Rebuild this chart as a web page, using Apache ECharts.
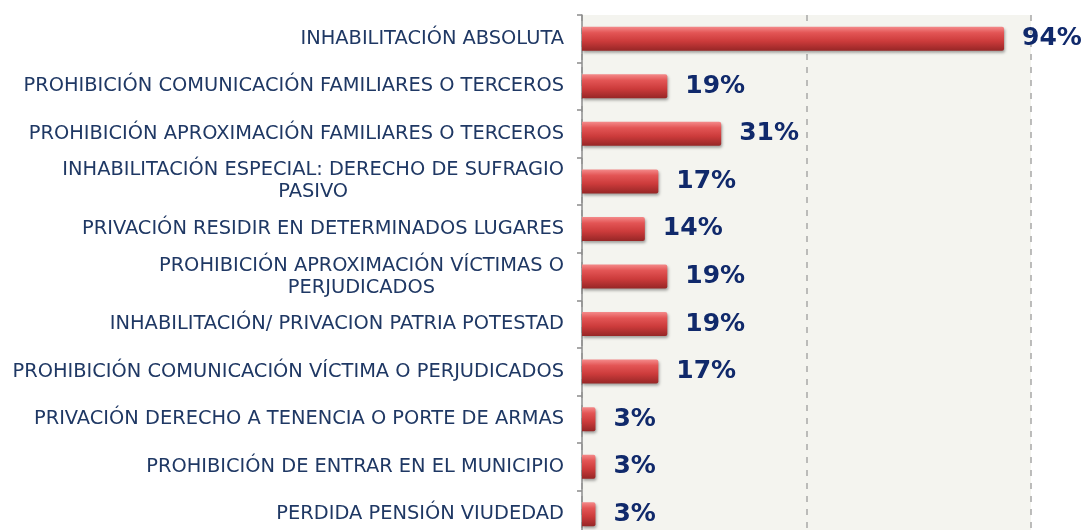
<!DOCTYPE html>
<html>
<head>
<meta charset="utf-8">
<script src="https://cdn.jsdelivr.net/npm/echarts@6/dist/echarts.min.js"></script>
<style>
  html, body { margin: 0; padding: 0; overflow: hidden; background: #fff; }
  #chart { width: 1088px; height: 538px; }
</style>
</head>
<body>
<div id="chart"></div>
<script>
// categories (top to bottom)
var categories = [
    'INHABILITACIÓN ABSOLUTA',
    'PROHIBICIÓN COMUNICACIÓN FAMILIARES O TERCEROS',
    'PROHIBICIÓN APROXIMACIÓN FAMILIARES O TERCEROS',
    'INHABILITACIÓN ESPECIAL: DERECHO DE SUFRAGIO\nPASIVO',
    'PRIVACIÓN RESIDIR EN DETERMINADOS LUGARES',
    'PROHIBICIÓN APROXIMACIÓN VÍCTIMAS O\nPERJUDICADOS',
    'INHABILITACIÓN/ PRIVACION PATRIA POTESTAD',
    'PROHIBICIÓN COMUNICACIÓN VÍCTIMA O PERJUDICADOS',
    'PRIVACIÓN DERECHO A TENENCIA O PORTE DE ARMAS',
    'PROHIBICIÓN DE ENTRAR EN EL MUNICIPIO',
    'PERDIDA PENSIÓN VIUDEDAD'
];
// percentages
var values = [94, 19, 31, 17, 14, 19, 19, 17, 3, 3, 3];

var chart = echarts.init(document.getElementById('chart'));

var opt = {
    animation: false,
    grid: {
        left: 582,
        right: 57,
        top: 15,
        bottom: 0,
        show: true,
        backgroundColor: '#f4f4ef',
        borderWidth: 0
    },
    xAxis: {
        type: 'value',
        min: 0,
        max: 100,
        interval: 50,
        axisLabel: { show: false },
        axisLine: { show: false },
        axisTick: { show: false },
        splitLine: {
            show: true,
            lineStyle: { color: '#a8a8a8', width: 1.5, type: [6, 7] }
        }
    },
    yAxis: {
        type: 'category',
        inverse: true,
        data: categories,
        axisLine: { show: true, lineStyle: { color: '#8c8c8c', width: 1.5 } },
        axisTick: { show: true, length: 5, lineStyle: { color: '#8c8c8c', width: 1.5 } },
        axisLabel: {
            margin: 18,
            color: '#1f3864',
            fontFamily: 'DejaVu Sans',
            fontSize: 19.4,
            formatter: function (v) {
                return v.split('\n').map(function (s) { return '{c|' + s + '}'; }).join('\n');
            },
            rich: {
                c: {
                    align: 'center',
                    color: '#1f3864',
                    fontFamily: 'DejaVu Sans',
                    fontSize: 19.4,
                    lineHeight: 22
                }
            }
        }
    },
    series: [
        {
            type: 'bar',
            data: values,
            barWidth: 24,
            itemStyle: {
                color: new echarts.graphic.LinearGradient(0, 0, 0, 1, [
                    { offset: 0, color: '#f48a8a' },
                    { offset: 0.25, color: '#e35555' },
                    { offset: 0.6, color: '#cc3b3b' },
                    { offset: 1, color: '#962626' }
                ]),
                borderRadius: [0, 2, 2, 0],
                shadowBlur: 3,
                shadowOffsetX: 1,
                shadowOffsetY: 2,
                shadowColor: 'rgba(0,0,0,0.35)'
            },
            label: {
                show: true,
                position: 'right',
                distance: 18,
                formatter: '{c}%',
                color: '#10296b',
                fontFamily: 'DejaVu Sans',
                fontWeight: 'bold',
                fontSize: 25
            }
        }
    ]
};

chart.setOption(opt, true);
</script>
</body>
</html>
